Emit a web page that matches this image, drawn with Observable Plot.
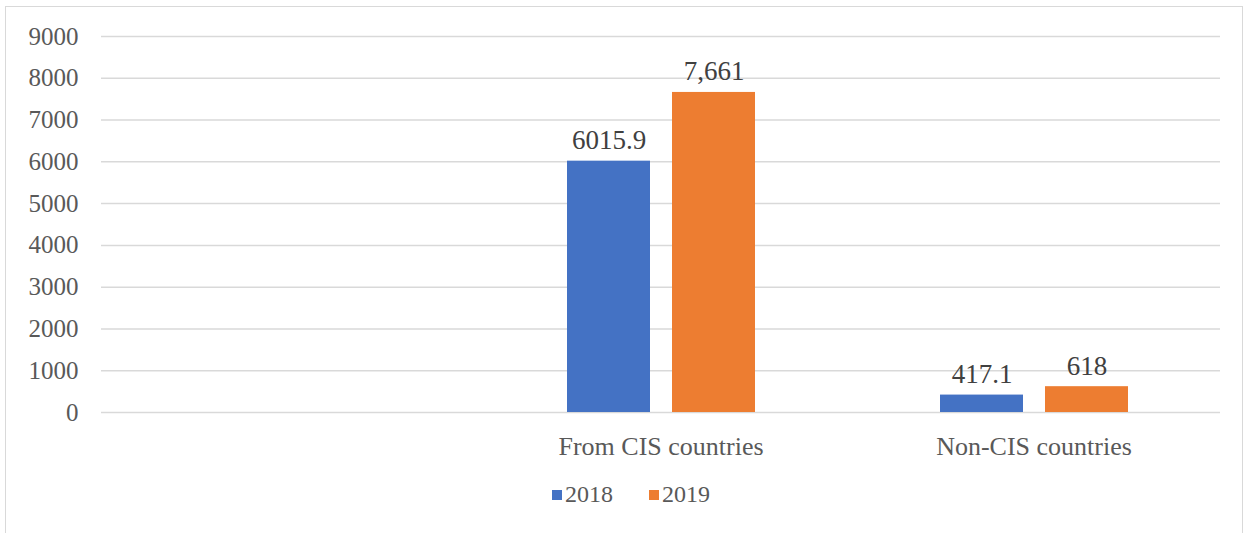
<!DOCTYPE html>
<html>
<head>
<meta charset="utf-8">
<script src="https://cdn.jsdelivr.net/npm/d3@7"></script>
<script src="https://cdn.jsdelivr.net/npm/@observablehq/plot@0.6"></script>
<style>
  html, body { margin: 0; padding: 0; background: #fff; }
  #frame { position: absolute; left: 5px; top: 6px; width: 1238px; height: 540px; border: 1px solid #d9d9d9; box-sizing: border-box; }
  #chart { position: absolute; left: 0; top: 0; }
  #legend { position: absolute; left: 0; top: 481px; width: 1252px; display: flex; justify-content: center; align-items: center; gap: 36px;
    font-family: 'Liberation Serif', 'Times New Roman', serif; font-size: 24px; color: #595959; padding-left: 10px; box-sizing: border-box; }
  .item { display: flex; align-items: center; gap: 3px; }
  .sw { width: 10px; height: 10px; display: inline-block; }
</style>
</head>
<body>
<div id="frame"></div>
<div id="chart"></div>
<div id="legend"></div>
<script>
const categories = ["", "From CIS countries", "Non-CIS countries"];
const years = ["2018", "2019"];
const values2018 = [null, 6015.9, 417.1];
const values2019 = [null, 7661, 618];
const labels2018 = ["", "6015.9", "417.1"];
const labels2019 = ["", "7,661", "618"];
const yTicks = [0, 1000, 2000, 3000, 4000, 5000, 6000, 7000, 8000, 9000];
const colors = ["#4472C4", "#ED7D31"];

// keep every category (the first one is empty) so that all facets are laid out
const data = [];
categories.forEach((c, i) => {
  data.push({category: c, year: years[0], value: values2018[i], label: labels2018[i]});
  data.push({category: c, year: years[1], value: values2019[i], label: labels2019[i]});
});

const chart = Plot.plot({
  width: 1252,
  height: 470,
  marginLeft: 100,
  marginRight: 32,
  marginTop: 36,
  marginBottom: 58,
  style: {fontFamily: "'Liberation Serif', 'Times New Roman', serif", fontSize: "25px", color: "#595959", background: "transparent"},
  fx: {domain: categories, padding: 0, label: null, axis: null},
  x: {domain: years, paddingInner: 0.21, paddingOuter: 0.88, axis: null},
  y: {domain: [0, 9000], ticks: yTicks, label: null, tickSize: 0, tickPadding: 23, tickFormat: d => String(d)},
  color: {domain: years, range: colors},
  marks: [
    Plot.gridY(yTicks, {stroke: "#d9d9d9", strokeOpacity: 1, strokeWidth: 1.5}),
    Plot.axisFx({anchor: "bottom", tickSize: 0, tickPadding: 24, fontSize: 26, label: null}),
    Plot.barY(data, {fx: "category", x: "year", y: "value", fill: "year"}),
    Plot.text(data, {fx: "category", x: "year", y: "value", text: "label", dy: -12, lineAnchor: "bottom", fill: "#404040", fontSize: 27})
  ]
});
document.getElementById("chart").appendChild(chart);

const legend = document.getElementById("legend");
years.forEach((y, i) => {
  const item = document.createElement("span");
  item.className = "item";
  const sw = document.createElement("span");
  sw.className = "sw";
  sw.style.background = colors[i];
  item.appendChild(sw);
  item.appendChild(document.createTextNode(y));
  legend.appendChild(item);
});
</script>
</body>
</html>
